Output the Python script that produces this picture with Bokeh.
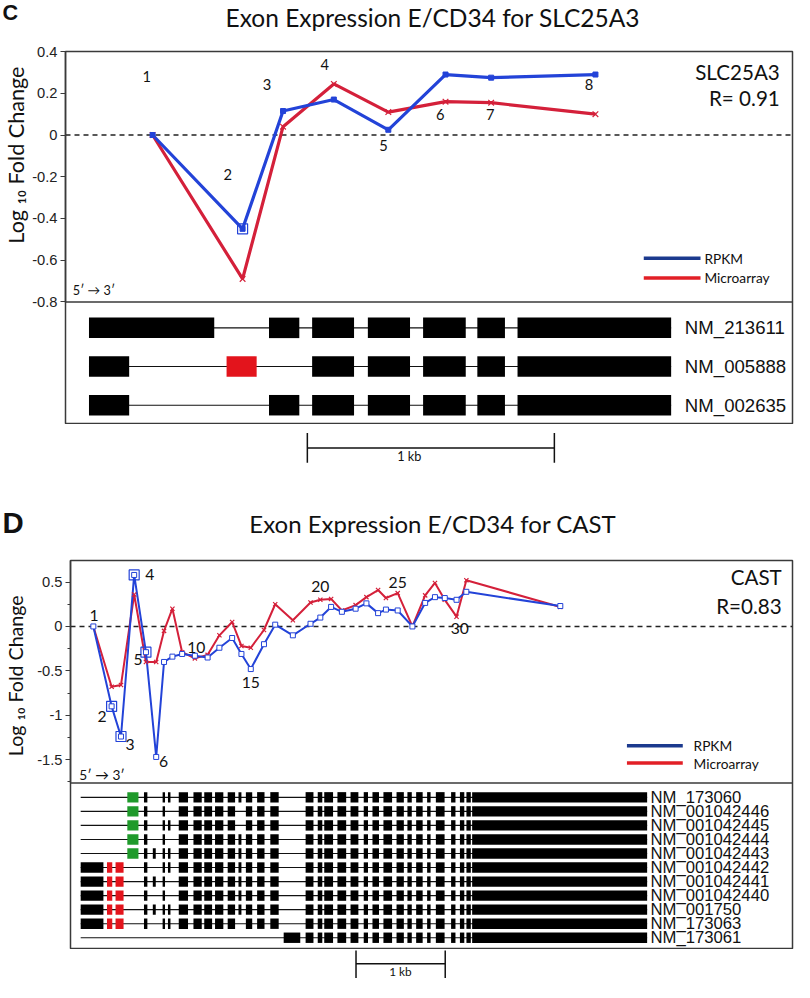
import math
from bokeh.plotting import figure
from bokeh.models import Range1d, FixedTicker, LinearAxis, Span
from bokeh.layouts import column, row
from bokeh.embed import file_html
from bokeh.resources import INLINE
from bokeh.core.properties import value

# ------------------------------------------------------------------ panel C data (SLC25A3)
c_title = "Exon Expression E/CD34 for SLC25A3"
c_gene = "SLC25A3"
c_corr = "R= 0.91"
c_pos = [258, 623, 787, 993, 1214, 1446, 1631, 2054]            # exon plotting position (bp)
c_rpkm = [0.0, -0.45, 0.115, 0.17, 0.025, 0.29, 0.275, 0.29]
c_array = [0.0, -0.69, 0.04, 0.245, 0.11, 0.16, 0.155, 0.10]
c_big = [1]                                                     # highlighted RPKM points
c_num_text = ["1", "2", "3", "4", "5", "6", "7", "8"]
c_num_x = [234, 563, 722, 956, 1194, 1425, 1627, 2028]
c_num_y = [0.28, -0.19, 0.24, 0.34, -0.05, 0.10, 0.10, 0.24]
c_ticks = [-0.8, -0.6, -0.4, -0.2, 0, 0.2, 0.4]
c_tick_text = ["-0.8", "-0.6", "-0.4", "-0.2", "0", "0.2", "0.4"]
c_tx_names = ["NM_213611", "NM_005888", "NM_002635"]
c_tx_exons = [
    [[0, 508], [730, 853], [905, 1075], [1131, 1302], [1355, 1528], [1575, 1687], [1738, 2361]],
    [[0, 163], [558, 680], [905, 1075], [1131, 1302], [1355, 1528], [1575, 1687], [1738, 2361]],
    [[0, 163], [730, 853], [905, 1075], [1131, 1302], [1355, 1528], [1575, 1687], [1738, 2361]],
]
c_tx_alt = [[], [1], []]                                        # alternative (red) exons
c_scale_bp = [889, 1889]                                        # 1 kb

# ------------------------------------------------------------------ panel D data (CAST)
d_title = "Exon Expression E/CD34 for CAST"
d_gene = "CAST"
d_corr = "R=0.83"
d_pos = [142, 347, 452, 600, 732, 847, 935, 1029, 1138, 1281, 1424, 1556, 1699, 1803, 1908,
         2056, 2182, 2380, 2578, 2688, 2809, 2930, 3084, 3205, 3336, 3424, 3556, 3721, 3864,
         3974, 4084, 4216, 4326, 5380]
d_rpkm = [0.0, -0.90, -1.24, 0.58, -0.29, -1.47, -0.40, -0.34, -0.31, -0.33, -0.35, -0.24,
          -0.13, -0.31, -0.48, -0.20, 0.02, -0.10, 0.03, 0.10, 0.22, 0.165, 0.20, 0.26, 0.15,
          0.19, 0.18, 0.0, 0.265, 0.33, 0.32, 0.30, 0.39, 0.23]
d_array = [0.0, -0.68, -0.66, 0.36, -0.40, -0.40, -0.05, 0.20, -0.29, -0.36, -0.32, -0.10,
           0.05, -0.22, -0.24, -0.04, 0.25, 0.07, 0.27, 0.30, 0.31, 0.18, 0.24, 0.33, 0.41,
           0.32, 0.375, 0.0, 0.35, 0.49, 0.30, 0.11, 0.52, 0.22]
d_big = [1, 2, 3, 4]
d_num_text = ["1", "2", "3", "4", "5", "6", "10", "15", "20", "25", "30"]
d_num_x = [149, 241, 553, 724, 644, 930, 1296, 1908, 2688, 3556, 4252]
d_num_y = [0.128, -1.012, -1.325, 0.588, -0.369, -1.52, -0.239, -0.626, 0.453, 0.497, -0.019]
d_num_align = ["center", "center", "center", "left", "center", "center", "center", "center",
               "center", "center", "center"]
d_ticks = [-1.5, -1, -0.5, 0, 0.5]
d_tick_text = ["-1.5", "-1", "-0.5", "0", "0.5"]
d_minor = [-1.75, -1.25, -0.75, -0.25, 0.25]
d_tx_names = ["NM_173060", "NM_001042446", "NM_001042445", "NM_001042444", "NM_001042443",
              "NM_001042442", "NM_001042441", "NM_001042440", "NM_001750", "NM_173063",
              "NM_173061"]
d_tx_lead = ["green"] * 5 + ["red"] * 5 + ["short"]
d_tx_extra = [0, 0, 0, 0, 1, 0, 1, 0, 1, 0, 0]
d_tx_skip = [[], [2, 8], [8], [2], [], [], [2], [2], [], [8], []]
d_first_exon = [0, 255]
d_red_exons = [[295, 354], [391, 481]]
d_green_exon = [523, 648]
d_extra_exon = [809, 842]
d_short_first = [2277, 2463]
d_cluster_a = [[710, 748], [919, 946], [979, 1007], [1100, 1204], [1265, 1358], [1386, 1474],
               [1507, 1600], [1649, 1732], [1770, 1803], [1853, 1924], [1979, 2062], [2127, 2221]]
d_cluster_b = [[2523, 2611], [2659, 2710], [2732, 2831], [2880, 2978], [3027, 3115],
               [3175, 3223], [3273, 3346], [3396, 3493], [3543, 3625], [3665, 3714],
               [3763, 3836], [3886, 3925], [3984, 4082], [4155, 4204], [4254, 4303],
               [4327, 4376]]
d_last_exon = [4391, 6354]
d_scale_bp = [3091, 4091]

# ------------------------------------------------------------------ style / layout
S = 0.98
W = 794
LW = 29                         # width of the strip holding the y-axis title
BLUE, RED = "#2343d8", "#d4203a"
BLUE_LEG, RED_LEG = "#1c3a8e", "#e21f26"
EX_RED, EX_GREEN = "#e3141c", "#1f9a2b"
FRAME = "#3a3a3a"
SANS, HUM = "Liberation Sans", "Lato"
YLABEL = "Log \u2081\u2080 Fold Change"


def sc(v):
    return int(round(v * S))


def fs(px):
    return "%.1fpx" % (px * S)


def blank(fig_top, fig_bot, x0, x1, width=W):
    p = figure(width=width, height=sc(fig_bot) - sc(fig_top), x_range=Range1d(x0, x1),
               y_range=Range1d(fig_bot, fig_top), x_axis_location=None, y_axis_location=None,
               output_backend="svg", toolbar_location=None, min_border=0,
               outline_line_color=None)
    p.grid.visible = False
    return p


def title_fig(fig_top, fig_bot, letter, letter_y, letter_size, title, title_y, title_size):
    p = blank(fig_top, fig_bot, 0, 810)
    p.text(x=[2], y=[letter_y], text=[letter], text_align="left", text_baseline="middle",
           text_font=value(SANS), text_font_style="bold", text_font_size=fs(letter_size),
           text_color="#111111")
    p.text(x=[441], y=[title_y], text=[title], text_align="center", text_baseline="middle",
           text_font=value(HUM), text_font_size=fs(title_size), text_color="#111111")
    return p


def main_fig(cfg):
    bp = lambda px: (px - cfg["px0"]) / cfg["kbpx"] * 1000.0
    val = lambda py: (cfg["zero"] - py) / cfg["unit"]
    rw = lambda py: (py - cfg["row0"]) / cfg["rowstep"]
    height = sc(cfg["fig_bot"]) - sc(cfg["fig_top"])
    p = figure(width=W - LW, height=height,
               x_range=Range1d(bp(cfg["left"]), bp(808)),
               y_range=Range1d(val(cfg["bot"]), val(cfg["top"])),
               x_axis_location=None, y_axis_location=None, output_backend="svg",
               toolbar_location=None, min_border_left=sc(cfg["left"]) - LW,
               min_border_right=sc(2), min_border_top=sc(cfg["top"]) - sc(cfg["fig_top"]),
               min_border_bottom=0, outline_line_color=FRAME, outline_line_width=1.5)
    p.grid.visible = False
    p.extra_y_ranges = {"gene": Range1d(rw(cfg["bot"]), rw(cfg["top"]))}

    ax = LinearAxis(ticker=FixedTicker(ticks=cfg["ticks"], minor_ticks=cfg["minor"]),
                    bounds=cfg["bounds"],
                    major_label_overrides=dict(zip(cfg["ticks"], cfg["tick_text"])),
                    axis_line_color=FRAME, axis_line_width=1.5,
                    major_tick_line_color=FRAME, major_tick_out=5, major_tick_in=0,
                    minor_tick_line_color=FRAME, minor_tick_out=3, minor_tick_in=0,
                    major_label_text_font=SANS, major_label_text_font_size=fs(15),
                    major_label_text_color="#222222", major_label_standoff=3)
    p.add_layout(ax, "left")

    p.add_layout(Span(location=0, dimension="width", line_color="#222222", line_width=1.4,
                      line_dash="5 4", level="underlay"))
    p.add_layout(Span(location=cfg["bounds"][0], dimension="width", line_color=FRAME,
                      line_width=1.5))

    # data series
    p.line(cfg["pos"], cfg["array"], line_color=RED, line_width=cfg["lw"])
    p.line(cfg["pos"], cfg["rpkm"], line_color=BLUE, line_width=cfg["lw"])
    p.scatter(cfg["pos"], cfg["array"], marker="x", size=cfg["xsize"], line_color=RED,
              line_width=1.2)
    p.scatter(cfg["pos"], cfg["rpkm"], marker="square", size=cfg["sqsize"], line_color=BLUE,
              fill_color=cfg["sqfill"], line_width=1)
    p.scatter([cfg["pos"][i] for i in cfg["big"]], [cfg["rpkm"][i] for i in cfg["big"]],
              marker="square", size=cfg["bigsize"], line_color=BLUE, fill_color=None,
              line_width=1.2)
    p.text(x=cfg["num_x"], y=cfg["num_y"], text=cfg["num_text"], text_align=cfg["num_align"],
           text_baseline="middle", text_font=value(HUM), text_font_size=fs(cfg["num_size"]),
           text_color="#111111")

    # gene name, correlation, legend, orientation
    p.text(x=[bp(cfg["gene_x"])] * 2, y=[val(cfg["gene_y"]), val(cfg["corr_y"])],
           text=[cfg["gene"], cfg["corr"]], text_align="right", text_baseline="middle",
           text_font=value(HUM), text_font_size=fs(cfg["gene_size"]), text_color="#111111")
    lx0, lx1, ltx = bp(cfg["leg_x"][0]), bp(cfg["leg_x"][1]), bp(cfg["leg_x"][2])
    p.segment(x0=[lx0, lx0], x1=[lx1, lx1], y0=[val(cfg["leg_y"][0]), val(cfg["leg_y"][1])],
              y1=[val(cfg["leg_y"][0]), val(cfg["leg_y"][1])], line_color=[BLUE_LEG, RED_LEG],
              line_width=3.5)
    p.text(x=[ltx, ltx], y=[val(cfg["leg_y"][0]), val(cfg["leg_y"][1])],
           text=["RPKM", "Microarray"], text_align="left", text_baseline="middle",
           text_font=value(HUM), text_font_size=fs(14), text_color="#111111")
    p.text(x=[bp(cfg["ori"][0])], y=[val(cfg["ori"][1])], text=["5\u2032 \u2192 3\u2032"],
           text_align="left", text_baseline="middle", text_font=value(HUM),
           text_font_size=fs(cfg["ori_size"]), text_color="#111111")

    # transcript structures
    h = cfg["exon_half"]
    L, R, B, T, C = [], [], [], [], []
    ix0, ix1, iy = [], [], []
    for r, exons in enumerate(cfg["tx"]):
        ix0.append(min(e[0][0] for e in exons))
        ix1.append(max(e[0][1] for e in exons))
        iy.append(r)
        for (s, e), col in exons:
            L.append(s); R.append(e); B.append(r + h); T.append(r - h); C.append(col)
    p.segment(x0=ix0, x1=ix1, y0=iy, y1=iy, line_color="#111111", line_width=1.1,
              y_range_name="gene")
    p.quad(left=L, right=R, bottom=B, top=T, fill_color=C, line_color=None,
           y_range_name="gene")
    p.text(x=[bp(cfg["name_x"])] * len(cfg["names"]), y=list(range(len(cfg["names"]))),
           text=cfg["names"], text_align="left", text_baseline="middle",
           text_font=value(SANS), text_font_size=fs(cfg["name_size"]), text_color="#111111",
           y_range_name="gene")

    # y-axis title strip
    q = blank(cfg["fig_top"], cfg["fig_bot"], 0, LW / S, width=LW)
    q.text(x=[cfg["label_x"]], y=[cfg["label_y"]], text=[YLABEL], angle=math.pi / 2,
           text_align="center", text_baseline="middle", text_font=value(HUM),
           text_font_size=fs(cfg["label_size"]), text_color="#111111")
    return row(q, p, spacing=0), bp


def scale_fig(fig_top, fig_bot, bp, bar, bar_y, tick_y, label_x, label_y, size):
    p = blank(fig_top, fig_bot, bp(0), bp(810))
    p.segment(x0=[bar[0], bar[0], bar[1]], x1=[bar[1], bar[0], bar[1]],
              y0=[bar_y, tick_y[0], tick_y[0]], y1=[bar_y, tick_y[1], tick_y[1]],
              line_color="#111111", line_width=1.5)
    p.text(x=[bp(label_x)], y=[label_y], text=["1 kb"], text_align="center",
           text_baseline="middle", text_font=value(HUM), text_font_size=fs(size),
           text_color="#111111")
    return p


# ---- build transcript exon lists
c_tx = []
for i, exons in enumerate(c_tx_exons):
    c_tx.append([(e, EX_RED if k in c_tx_alt[i] else "black") for k, e in enumerate(exons)])

d_tx = []
for i in range(len(d_tx_names)):
    ex = []
    if d_tx_lead[i] == "green":
        ex.append((d_green_exon, EX_GREEN))
    elif d_tx_lead[i] == "red":
        ex.append((d_first_exon, "black"))
        ex += [(e, EX_RED) for e in d_red_exons]
    if d_tx_lead[i] == "short":
        ex.append((d_short_first, "black"))
    else:
        if d_tx_extra[i]:
            ex.append((d_extra_exon, "black"))
        ex += [(e, "black") for k, e in enumerate(d_cluster_a) if k not in d_tx_skip[i]]
    ex += [(e, "black") for e in d_cluster_b]
    ex.append((d_last_exon, "black"))
    if ex[0][0][0] != 0:
        ex.insert(0, ([0, 0], "black"))
    d_tx.append(ex)

c_cfg = dict(fig_top=44, fig_bot=433, top=52, bot=433, left=65, px0=89.0, kbpx=252.0,
             zero=137.3, unit=213.0, row0=334.3, rowstep=39.5,
             ticks=c_ticks, tick_text=c_tick_text, minor=[], bounds=(-0.801, 0.401),
             label_x=16, label_y=152, label_size=22,
             pos=c_pos, rpkm=c_rpkm, array=c_array, big=c_big, lw=3.2, xsize=8, sqsize=5,
             sqfill=BLUE, bigsize=10, num_x=c_num_x, num_y=c_num_y, num_text=c_num_text,
             num_align="center", num_size=15, gene=c_gene, corr=c_corr, gene_x=795,
             gene_y=73.3, corr_y=99, gene_size=21, leg_x=(656, 714, 718),
             leg_y=(263.3, 283.3), ori=(72.5, 296), ori_size=13, exon_half=0.265, tx=c_tx,
             names=c_tx_names, name_x=698, name_size=19)
d_cfg = dict(fig_top=563, fig_bot=968, top=571, bot=968, left=71, px0=81.4, kbpx=91.0,
             zero=638.3, unit=90.6, row0=812.7, rowstep=14.33,
             ticks=d_ticks, tick_text=d_tick_text, minor=d_minor, bounds=(-1.763, 0.743),
             label_x=15, label_y=683, label_size=20,
             pos=d_pos, rpkm=d_rpkm, array=d_array, big=d_big, lw=2.0, xsize=6, sqsize=5,
             sqfill="white", bigsize=10, num_x=d_num_x, num_y=d_num_y, num_text=d_num_text,
             num_align=d_num_align, num_size=16, gene=d_gene, corr=d_corr, gene_x=797,
             gene_y=588, corr_y=617, gene_size=21, leg_x=(639, 696, 707), leg_y=(760, 777.7),
             ori=(80, 789), ori_size=14, exon_half=0.37, tx=d_tx, names=d_tx_names,
             name_x=663, name_size=17)

p_c_title = title_fig(0, 44, "C", 12.5, 22, c_title, 17, 25)
p_c_main, c_bp = main_fig(c_cfg)
p_c_scale = scale_fig(433, 515, c_bp, c_scale_bp, 456.7, (441.7, 471.7), 417, 465, 13)
p_d_title = title_fig(515, 563, "D", 532.5, 30, d_title, 533, 24.5)
p_d_main, d_bp = main_fig(d_cfg)
p_d_scale = scale_fig(968, 1001, d_bp, d_scale_bp, 982.7, (969, 997.5), 408, 991, 12)

layout = column(p_c_title, p_c_main, p_c_scale, p_d_title, p_d_main, p_d_scale, spacing=0)
open("out.html", "w").write(file_html(layout, INLINE))
